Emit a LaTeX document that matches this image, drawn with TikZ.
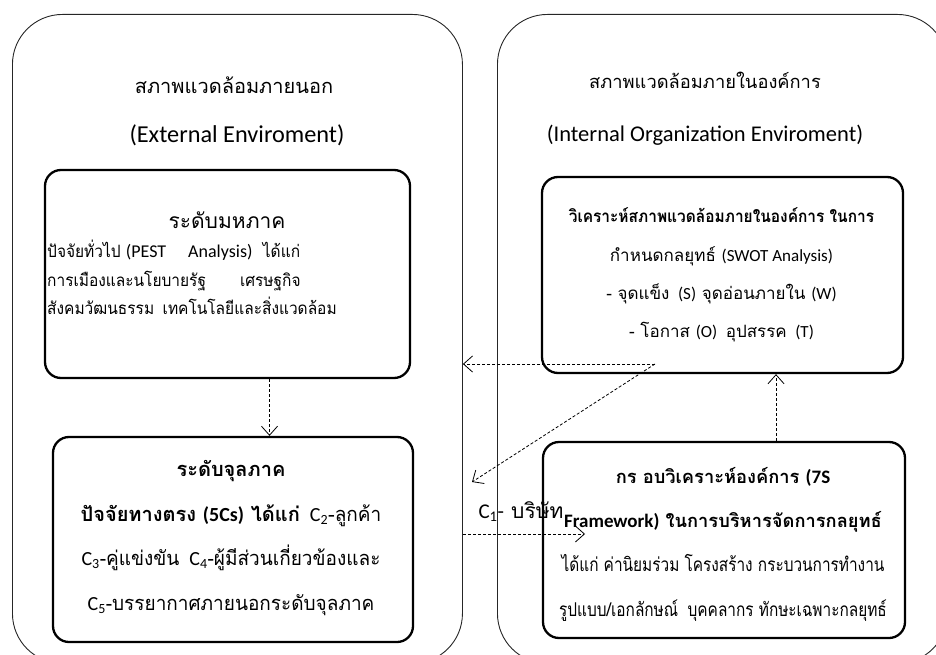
\documentclass[tikz,border=0pt]{standalone}
\usepackage{fontspec}
\setmainfont[Script=Thai]{Loma}
\newfontfamily\lat{Carlito}
% condensed cuts of the Thai face for the panel texts
\newfontfamily\thA[Script=Thai,FakeStretch=0.91]{Loma}
\newfontfamily\thB[Script=Thai,FakeStretch=0.81]{Loma}
\newfontfamily\thC[Script=Thai,FakeStretch=0.95]{Loma}
\usetikzlibrary{arrows.meta,calc}

\tikzset{
  outerbox/.style={draw=black!85, line width=0.9pt, rounded corners=50pt, inner sep=0pt},
  panel/.style={draw=black, line width=2.3pt, rounded corners=16pt, inner sep=0pt},
  flow/.style={dash pattern=on 3pt off 2pt, line width=0.8pt,
    -{Straight Barb[length=9pt,width=16pt,line width=0.8pt]}},
  label/.style={inner sep=0pt, text=black},
}

\begin{document}
\begin{tikzpicture}[x=1pt,y=-1pt]
  \useasboundingbox (0,0) rectangle (936,655);

  % outer frames: external and internal environment
  \node[outerbox, anchor=north west, minimum width=450pt, minimum height=649pt] (ext) at (12,14) {};
  \node[outerbox, anchor=north west, minimum width=450pt, minimum height=649pt] (int) at (497,14) {};

  % headings
  \node[label, font=\fontsize{20}{20}\selectfont] (extT) at (234,85) {สภาพแวดล้อมภายนอก};
  \node[label, font=\lat\fontsize{24.3}{24.3}\selectfont] (extS) at (237,135) {(External Enviroment)};
  \node[label, font=\fontsize{18.3}{18.3}\selectfont] (intT) at (705,80) {สภาพแวดล้อมภายในองค์การ};
  \node[label, font=\lat\fontsize{22.5}{22.5}\selectfont] (intS) at (705,135) {(Internal Organization Enviroment)};

  % inner panels
  \node[panel, minimum width=365pt, minimum height=208pt] (macro) at (227.5,274) {};
  \node[panel, minimum width=360pt, minimum height=205pt] (micro) at (233,539.5) {};
  \node[panel, minimum width=361pt, minimum height=196pt] (swot) at (722.5,275) {};
  \node[panel, minimum width=362pt, minimum height=196pt] (seven) at (724,540) {};

  % macro level
  \node[label, font=\fontsize{21}{21}\selectfont] (macroT) at (227,220) {ระดับมหภาค};
  \node[label, anchor=north west, align=left, font=\thA\fontsize{17}{28.5}\selectfont] (macroB) at (47,240)
    {ปัจจัยทั่วไป\ {\lat\fontsize{18}{28.5}\selectfont(PEST\quad\ Analysis)}\ \ ได้แก่\\
     การเมืองและนโยบายรัฐ\qquad เศรษฐกิจ\\
     สังคมวัฒนธรรม\enspace เทคโนโลยีและสิ่งแวดล้อม};

  % micro level
  \node[label, align=center, font=\fontsize{20}{44.5}\selectfont] (microB) at (231,538)
    {\textbf{ระดับจุลภาค}\\
     \textbf{ปัจจัยทางตรง {\lat(5Cs)} ได้แก่}\enspace {\lat C\textsubscript{2}}-{\thC ลูกค้า}\\
     {\thC{\lat C\textsubscript{3}}-คู่แข่งขัน\enspace {\lat C\textsubscript{4}}-ผู้มีส่วนเกี่ยวข้องและ}\\
     {\thC{\lat C\textsubscript{5}}-บรรยากาศภายนอกระดับจุลภาค}};

  % SWOT
  \node[label, align=center, font=\fontsize{17}{38.3}\selectfont] (swotB) at (721.5,275)
    {{\thA\bfseries วิเคราะห์สภาพแวดล้อมภายในองค์การ ในการ}\\
     กำหนดกลยุทธ์ {\lat(SWOT Analysis)}\\
     - จุดแข็ง\enspace{\lat(S)} จุดอ่อนภายใน {\lat(W)}\\
     - โอกาส {\lat(O)}\enspace อุปสรรค\enspace{\lat(T)}};

  % 7S
  \node[label, align=center, font=\fontsize{18.3}{44.3}\selectfont] (sevenB) at (723,544)
    {\textbf{กร อบวิเคราะห์องค์การ {\lat\fontsize{19}{44.3}\selectfont(7S}}\\
     \textbf{{\lat\fontsize{19}{44.3}\selectfont Framework)} ในการบริหารจัดการกลยุทธ์}\\
     {\thB\fontsize{19}{44.3}\selectfont ได้แก่ ค่านิยมร่วม โครงสร้าง กระบวนการทำงาน}\\
     {\thB\fontsize{19}{44.3}\selectfont รูปแบบ/เอกลักษณ์\enspace บุคคลากร ทักษะเฉพาะกลยุทธ์}};

  % company label
  \node[label, font=\fontsize{21}{21}\selectfont] (comp) at (521,512) {{\lat C\textsubscript{1}-} บริษัท};

  % connectors
  \coordinate (m0) at ([xshift=42pt]macro.south);
  \draw[flow] (m0) -- (m0 |- micro.north);

  \coordinate (s0) at (655,364);
  \coordinate (d1) at (472,482);
  \draw[flow] (s0) -- (s0 -| ext.east);
  \draw[flow] (s0) -- (d1);

  \coordinate (u0) at ([xshift=52pt]seven.north);
  \draw[flow] (u0) -- (u0 |- swot.south);

  \coordinate (h1) at (585,534);
  \draw[flow] (h1 -| ext.east) -- (h1);
\end{tikzpicture}
\end{document}
